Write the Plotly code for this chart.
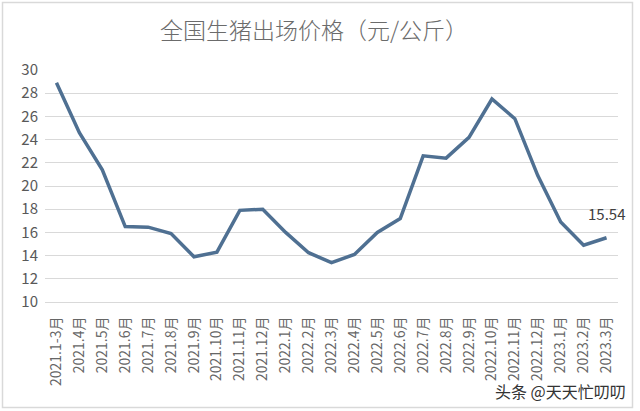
import plotly.graph_objects as go

categories = ["2021.1-3月", "2021.4月", "2021.5月", "2021.6月", "2021.7月", "2021.8月",
              "2021.9月", "2021.10月", "2021.11月", "2021.12月", "2022.1月", "2022.2月",
              "2022.3月", "2022.4月", "2022.5月", "2022.6月", "2022.7月", "2022.8月",
              "2022.9月", "2022.10月", "2022.11月", "2022.12月", "2023.1月", "2023.2月",
              "2023.3月"]
prices = [28.9, 24.6, 21.4, 16.5, 16.45, 15.9, 13.9, 14.3, 17.9, 18.0, 16.0, 14.25,
          13.4, 14.1, 16.0, 17.2, 22.6, 22.4, 24.2, 27.5, 25.8, 20.9, 16.9, 14.9, 15.54]
y_ticks = [10, 12, 14, 16, 18, 20, 22, 24, 26, 28, 30]
title_text = "全国生猪出场价格（元/公斤）"
watermark = "头条 @天天忙叨叨"

FONT = "Noto Sans CJK SC"
W, H = 640, 411
L, R, T, B = 45, 22, 70, 109
pw, ph = W - L - R, H - T - B

def px2paper_x(px):
    return (px - L) / pw

def px2paper_y(py):
    return (H - B - py) / ph

fig = go.Figure()
fig.add_trace(go.Scatter(
    x=list(range(len(categories))), y=prices, mode="lines",
    line=dict(color="#4f7092", width=3.5), hoverinfo="skip", showlegend=False,
))

fig.add_annotation(
    x=len(categories) - 1, y=prices[-1], text=f"{prices[-1]:.2f}",
    showarrow=False, yshift=24, font=dict(family=FONT, size=15, color="#404040"),
)

fig.add_annotation(
    xref="paper", yref="paper", x=px2paper_x(628), y=px2paper_y(391),
    xanchor="right", yanchor="middle", text=watermark, showarrow=False,
    font=dict(family=FONT, size=16, color="#333333"),
)

fig.add_annotation(
    xref="paper", yref="paper", x=px2paper_x(314), y=px2paper_y(29),
    xanchor="center", yanchor="middle", text=title_text, showarrow=False,
    font=dict(family=FONT, size=23, color="#6b6b6b", weight=300),
)

fig.add_shape(
    type="rect", xref="paper", yref="paper",
    x0=px2paper_x(2.5), x1=px2paper_x(632.5), y0=px2paper_y(407.5), y1=px2paper_y(2.5),
    line=dict(color="#d9d9d9", width=1.5), fillcolor="rgba(0,0,0,0)", layer="below",
)

fig.update_layout(
    width=W, height=H, margin=dict(l=L, r=R, t=T, b=B, autoexpand=False),
    paper_bgcolor="white", plot_bgcolor="white",
    xaxis=dict(
        range=[-0.5, len(categories) - 0.5], tickmode="array",
        tickvals=list(range(len(categories))), ticktext=categories,
        tickangle=-90, showgrid=False, zeroline=False,
        showline=True, linecolor="#d9d9d9", linewidth=1,
        ticks="", ticklen=0, ticklabelstandoff=8, automargin=False,
        tickfont=dict(family=FONT, size=14, color="#666666"),
    ),
    yaxis=dict(
        range=[10, 30], tickmode="array", tickvals=y_ticks,
        showgrid=True, gridcolor="#d9d9d9", gridwidth=1, zeroline=False,
        showline=False, ticks="", ticklen=0, ticklabelstandoff=6, automargin=False,
        tickfont=dict(family=FONT, size=15, color="#595959"),
    ),
)

fig.write_html(
    "out.html",
    config={"displayModeBar": False},
    post_script="document.body.style.margin='0';document.body.style.overflow='hidden';",
)
